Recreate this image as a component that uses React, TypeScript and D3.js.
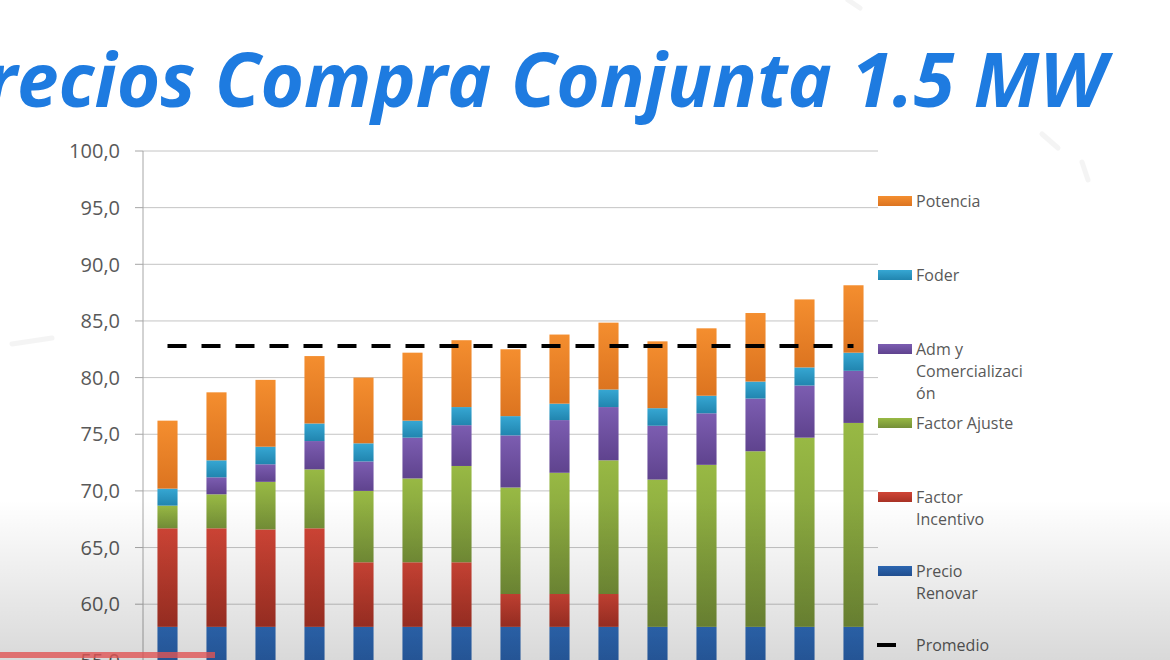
import React from "react";
import * as d3 from "d3";

const categories = ["1", "2", "3", "4", "5", "6", "7", "8", "9", "10", "11", "12", "13", "14", "15"];
const precioRenovar = [58, 58, 58, 58, 58, 58, 58, 58, 58, 58, 58, 58, 58, 58, 58];
const factorIncentivo = [8.7, 8.7, 8.6, 8.7, 5.7, 5.7, 5.7, 2.9, 2.9, 2.9, 0, 0, 0, 0, 0];
const factorAjuste = [2.0, 3.0, 4.2, 5.2, 6.3, 7.4, 8.5, 9.4, 10.7, 11.8, 13.0, 14.3, 15.5, 16.7, 18.0];
const admComercializacion = [0, 1.5, 1.55, 2.5, 2.6, 3.6, 3.6, 4.6, 4.65, 4.7, 4.75, 4.55, 4.65, 4.6, 4.6];
const foder = [1.5, 1.5, 1.55, 1.55, 1.6, 1.5, 1.6, 1.7, 1.45, 1.55, 1.55, 1.55, 1.5, 1.6, 1.6];
const potencia = [6.0, 6.0, 5.9, 5.95, 5.8, 6.0, 5.9, 5.9, 6.1, 5.9, 5.9, 5.95, 6.05, 6.0, 5.95];
const promedio = [82.8, 82.8, 82.8, 82.8, 82.8, 82.8, 82.8, 82.8, 82.8, 82.8, 82.8, 82.8, 82.8, 82.8, 82.8];
const yTicks = [50, 55, 60, 65, 70, 75, 80, 85, 90, 95, 100];

const seriesDefs = [
  { key: "renovar", name: ["Precio", "Renovar"], values: precioRenovar, c1: "#2F6CBB", c2: "#23549A" },
  { key: "incentivo", name: ["Factor", "Incentivo"], values: factorIncentivo, c1: "#D04536", c2: "#A83225" },
  { key: "ajuste", name: ["Factor Ajuste"], values: factorAjuste, c1: "#98B944", c2: "#748F37" },
  { key: "adm", name: ["Adm y", "Comercializaci", "ón"], values: admComercializacion, c1: "#7C5DB1", c2: "#5F438E" },
  { key: "foder", name: ["Foder"], values: foder, c1: "#36A7D3", c2: "#2185AF" },
  { key: "potencia", name: ["Potencia"], values: potencia, c1: "#F48E2F", c2: "#DC7420" },
];

export default function App() {
  const W = 1170;
  const H = 660;
  const left = 143;
  const right = 878;
  const x = d3.scaleBand().domain(categories).range([left, right]).paddingInner(0.59).paddingOuter(0.295);
  const y = d3.scaleLinear().domain([50, 100]).range([717.5, 151]);
  const fmt = (v: number) => d3.format(".1f")(v).replace(".", ",");

  const table = categories.map((c, i) => {
    const row: any = { cat: c };
    seriesDefs.forEach((s) => (row[s.key] = s.values[i]));
    return row;
  });
  const stacked = d3.stack().keys(seriesDefs.map((s) => s.key))(table);
  const yMin = y.domain()[0];

  const line = d3
    .line<number>()
    .x((_, i) => (x(categories[i]) as number) + x.bandwidth() / 2)
    .y((d) => y(d));

  const legendX = 878;
  const legendItems = [...seriesDefs].reverse();
  const legendY0 = 201;
  const legendStep = 74;

  return (
    <svg width={W} height={H} style={{ position: "absolute", left: 0, top: 0, background: "#fff" }}>
      <defs>
        {seriesDefs.map((s) => (
          <linearGradient key={s.key} id={"g-" + s.key} x1="0" y1="0" x2="0" y2="1">
            <stop offset="0" stopColor={s.c1} />
            <stop offset="1" stopColor={s.c2} />
          </linearGradient>
        ))}
        <linearGradient id="shade" x1="0" y1="0" x2="0" y2="1">
          <stop offset="0" stopColor="#000" stopOpacity={0} />
          <stop offset="1" stopColor="#000" stopOpacity={0.15} />
        </linearGradient>
      </defs>
      <rect x={0} y={0} width={W} height={H} fill="#ffffff" />
      {/* faint background strokes */}
      <g stroke="#ececec" strokeWidth={5} strokeLinecap="round" opacity={0.55}>
        <line x1={1042} y1={134} x2={1058} y2={148} />
        <line x1={1082} y1={162} x2={1088} y2={180} />
        <line x1={12} y1={344} x2={52} y2={338} />
        <line x1={848} y1={0} x2={860} y2={8} />
      </g>

      {/* title */}
      <text
        x={1106}
        y={107}
        textAnchor="end"
        fontFamily="'Open Sans', sans-serif"
        fontWeight={700}
        fontStyle="italic"
        fontSize={74.5}
        fill="#1E7BE0"
      >
        Precios Compra Conjunta 1.5 MW
      </text>

      {/* gridlines */}
      {yTicks.map((t) => (
        <g key={t}>
          <line x1={left} x2={right} y1={y(t)} y2={y(t)} stroke="#c4c4c4" strokeWidth={1} />
          <line x1={left - 8} x2={left} y1={y(t)} y2={y(t)} stroke="#a6a6a6" strokeWidth={1} />
          <text
            x={120}
            y={y(t)}
            dy="0.36em"
            textAnchor="end"
            fontFamily="'Open Sans', sans-serif"
            fontSize={20}
            fill="#595959"
          >
            {fmt(t)}
          </text>
        </g>
      ))}
      <line x1={left} x2={left} y1={y(100)} y2={H} stroke="#a6a6a6" strokeWidth={1} />

      {/* bars */}
      {stacked.map((layer) => (
        <g key={layer.key} fill={`url(#g-${layer.key})`}>
          {layer.map((d, i) => {
            const y0 = Math.max(d[0], yMin);
            const y1 = d[1];
            if (y1 - y0 <= 0) return null;
            return (
              <rect
                key={i}
                x={x(categories[i]) as number}
                width={x.bandwidth()}
                y={y(y1)}
                height={y(y0) - y(y1)}
              />
            );
          })}
        </g>
      ))}

      {/* promedio */}
      <path d={line(promedio) || ""} fill="none" stroke="#000" strokeWidth={4} strokeDasharray="19 15" />

      {/* legend */}
      {legendItems.map((s, i) => {
        const cy = legendY0 + i * legendStep;
        return (
          <g key={s.key}>
            <rect x={legendX} y={cy - 5} width={34} height={10} fill={`url(#g-${s.key})`} />
            <text fontFamily="'Open Sans', sans-serif" fontSize={16} fill="#595959">
              {s.name.map((ln, j) => (
                <tspan key={j} x={916} y={cy + 6 + j * 22}>
                  {ln}
                </tspan>
              ))}
            </text>
          </g>
        );
      })}
      <g>
        <line x1={877} x2={896} y1={legendY0 + 6 * legendStep} y2={legendY0 + 6 * legendStep} stroke="#000" strokeWidth={4} />
        <text x={916} y={legendY0 + 6 * legendStep + 6} fontFamily="'Open Sans', sans-serif" fontSize={16} fill="#595959">
          Promedio
        </text>
      </g>

      {/* bottom shading and progress bar */}
      <rect x={0} y={500} width={W} height={160} fill="url(#shade)" />
      <rect x={0} y={652} width={215} height={6} fill="#e05555" opacity={0.8} />
    </svg>
  );
}
